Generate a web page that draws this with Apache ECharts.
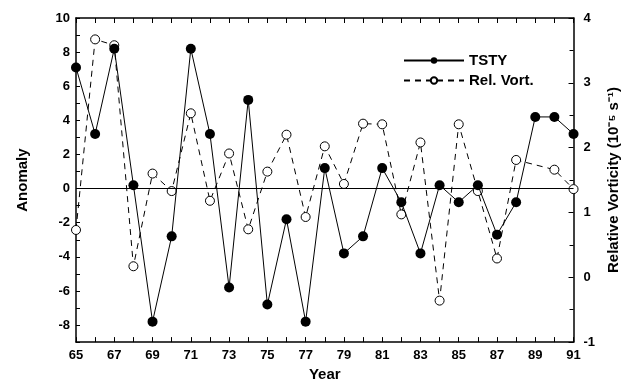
<!DOCTYPE html>
<html>
<head>
<meta charset="utf-8">
<script src="https://cdn.jsdelivr.net/npm/echarts@6/dist/echarts.min.js"></script>
<style>
  html, body { margin: 0; padding: 0; background: #fff; }
  #chart { width: 629px; height: 387px; }
</style>
</head>
<body>
<div id="chart"></div>
<script>
// years 65..91
const years = [65, 66, 67, 68, 69, 70, 71, 72, 73, 74, 75, 76, 77, 78, 79, 80, 81, 82, 83, 84, 85, 86, 87, 88, 89, 90, 91];
// TSTY anomaly (left axis)
const tsty = [7.1, 3.2, 8.2, 0.2, -7.8, -2.8, 8.2, 3.2, -5.8, 5.2, -6.8, -1.8, -7.8, 1.2, -3.8, -2.8, 1.2, -0.8, -3.8, 0.2, -0.8, 0.2, -2.7, -0.8, 4.2, 4.2, 3.2];
// relative vorticity (right axis), 89 not plotted
const relVort = [0.73, 3.67, 3.58, 0.17, 1.6, 1.33, 2.53, 1.18, 1.91, 0.74, 1.63, 2.2, 0.93, 2.02, 1.44, 2.37, 2.36, 0.97, 2.08, -0.36, 2.36, 1.33, 0.29, 1.81, null, 1.66, 1.36];

const font = 'Liberation Sans, Arial, sans-serif';
const lab = { color: '#000', fontFamily: font, fontWeight: 'bold', fontSize: 13 };
const axisLine = { show: true, onZero: false, lineStyle: { color: '#000', width: 1.5 } };

const chart = echarts.init(document.getElementById('chart'), null, { renderer: 'canvas' });

const option = {
  animation: false,
  backgroundColor: '#fff',
  grid: { left: 76, right: 54, top: 18, bottom: 44 },
  legend: {
    orient: 'vertical',
    left: 398,
    top: 48,
    itemWidth: 60,
    itemHeight: 8,
    itemGap: 5,
    textStyle: { color: '#000', fontFamily: font, fontWeight: 'bold', fontSize: 15 },
    data: ['TSTY', 'Rel. Vort.']
  },
  xAxis: [
    {
      type: 'value', min: 65, max: 91, interval: 2,
      name: 'Year', nameLocation: 'middle', nameGap: 24,
      nameTextStyle: { color: '#000', fontFamily: font, fontWeight: 'bold', fontSize: 15 },
      axisLine: axisLine,
      axisTick: { show: true, inside: true, length: 5, lineStyle: { color: '#000' } },
      minorTick: { show: true, splitNumber: 2, length: 5, lineStyle: { color: '#000' } },
      axisLabel: Object.assign({ margin: 7 }, lab),
      splitLine: { show: false }
    },
    {
      type: 'value', min: 65, max: 91, interval: 2, position: 'top',
      axisLine: axisLine,
      axisTick: { show: true, inside: true, length: 5, lineStyle: { color: '#000' } },
      minorTick: { show: true, splitNumber: 2, length: 5, lineStyle: { color: '#000' } },
      axisLabel: { show: false },
      splitLine: { show: false }
    }
  ],
  yAxis: [
    {
      type: 'value', min: -9, max: 10, interval: 1,
      name: 'Anomaly', nameLocation: 'middle', nameGap: 46,
      nameTextStyle: { color: '#000', fontFamily: font, fontWeight: 'bold', fontSize: 15 },
      axisLine: axisLine,
      axisTick: { show: true, inside: true, length: 4, lineStyle: { color: '#000' } },
      axisLabel: Object.assign({
        margin: 6,
        formatter: v => (v % 2 === 0 ? String(v) : '')
      }, lab),
      splitLine: { show: false }
    },
    {
      type: 'value', min: -1, max: 4, interval: 1,
      name: 'Relative Vorticity (10⁻⁵ s⁻¹)', nameLocation: 'middle', nameGap: 32,
      nameRotate: 90,
      nameTextStyle: { color: '#000', fontFamily: font, fontWeight: 'bold', fontSize: 15 },
      axisLine: axisLine,
      axisTick: { show: true, inside: true, length: 5, lineStyle: { color: '#000' } },
      minorTick: { show: true, splitNumber: 2, length: 4, lineStyle: { color: '#000' } },
      axisLabel: Object.assign({ margin: 10 }, lab),
      splitLine: { show: false }
    }
  ],
  series: [
    {
      name: 'Rel. Vort.',
      type: 'line',
      xAxisIndex: 0,
      yAxisIndex: 1,
      data: years.map((y, i) => [y, relVort[i]]),
      connectNulls: true,
      symbol: 'circle',
      symbolSize: 9,
      lineStyle: { color: '#000', width: 1, type: [6, 5] },
      itemStyle: { color: '#fff', borderColor: '#000', borderWidth: 1 },
      z: 2
    },
    {
      name: 'TSTY',
      type: 'line',
      xAxisIndex: 0,
      yAxisIndex: 0,
      data: years.map((y, i) => [y, tsty[i]]),
      symbol: 'circle',
      symbolSize: 10,
      lineStyle: { color: '#000', width: 1 },
      itemStyle: { color: '#000' },
      markLine: {
        silent: true,
        symbol: 'none',
        label: { show: false },
        lineStyle: { color: '#000', width: 1, type: 'solid' },
        data: [{ yAxis: 0 }]
      },
      z: 3
    }
  ]
};

chart.setOption(option);
</script>
</body>
</html>
